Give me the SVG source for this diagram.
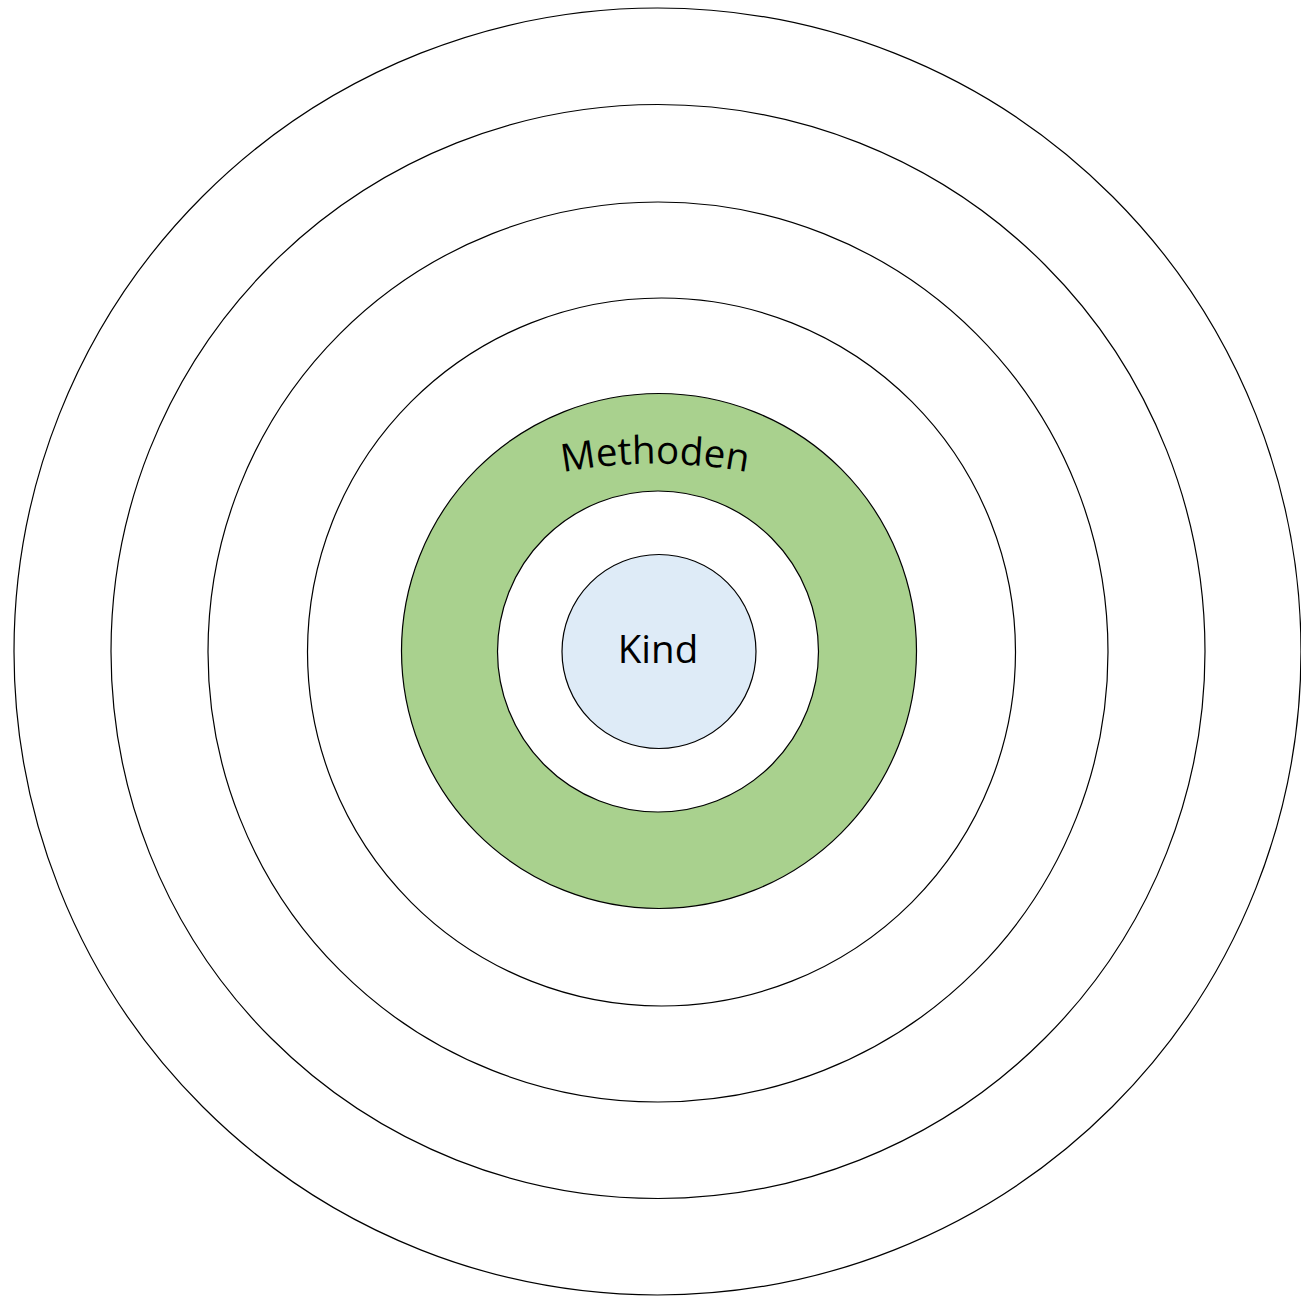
<svg xmlns="http://www.w3.org/2000/svg" width="1301" height="1299" viewBox="0 0 1301 1299">
  <style>
    .ring { fill: #ffffff; stroke: #000000; stroke-width: 1.2; }
    .green { fill: #A9D18E; stroke: #000000; stroke-width: 1.2; }
    .blue { fill: #DEEBF7; stroke: #000000; stroke-width: 1.2; }
    .lbl { font-family: "Open Sans", "Liberation Sans", sans-serif; font-size: 38.5px; fill: #000000; }
  </style>
  <defs>
    <path id="arcMethoden" d="M 495,490 A 500,500 0 0 1 815,490"/>
  </defs>
  <rect width="1301" height="1299" fill="#ffffff"/>
  <g id="ring1"><circle class="ring" cx="657.5" cy="651.5" r="643.5"/></g>
  <g id="ring2"><circle class="ring" cx="658" cy="651.5" r="547"/></g>
  <g id="ring3"><circle class="ring" cx="658" cy="652" r="450"/></g>
  <g id="ring4"><circle class="ring" cx="661.5" cy="652" r="354"/></g>
  <g id="methoden">
    <circle class="green" cx="659" cy="651" r="257.5"/>
    <text class="lbl"><textPath href="#arcMethoden" startOffset="50%" text-anchor="middle">Methoden</textPath></text>
  </g>
  <g id="ring-inner"><circle class="ring" cx="658" cy="651.5" r="160.5"/></g>
  <g id="kind">
    <circle class="blue" cx="659" cy="651.5" r="97"/>
    <text class="lbl" x="658" y="663" text-anchor="middle">Kind</text>
  </g>
  <g id="connectors"/>
</svg>
